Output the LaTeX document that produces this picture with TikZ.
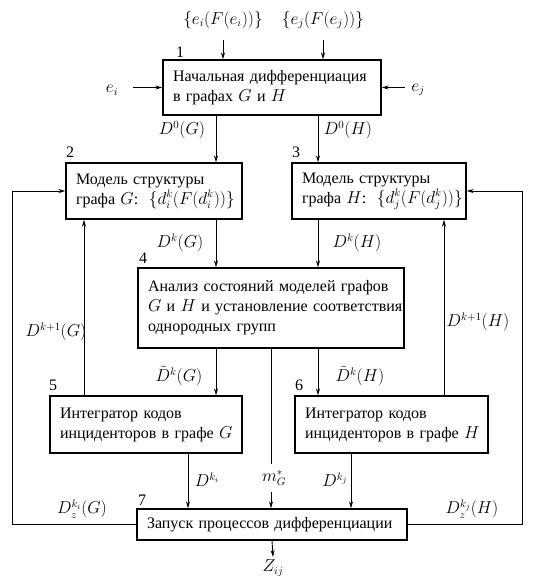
\documentclass[tikz,border=0pt]{standalone}
\usepackage{fontspec}
\setmainfont{Liberation Serif}
\usetikzlibrary{arrows.meta}
\tikzset{
  block/.style={draw, line width=1.3pt, align=left, inner xsep=10pt, inner ysep=0pt,
    font=\fontsize{16}{20}\selectfont},
  lbl/.style={font=\fontsize{16}{20}\selectfont, inner sep=1pt},
  num/.style={font=\fontsize{16}{20}\selectfont, inner sep=0pt},
  link/.style={draw, line width=0.9pt, -{Stealth[length=7pt,width=4pt]}},
  wire/.style={draw, line width=0.9pt},
}
\newcommand{\boxline}[1]{\mbox{#1}}
\begin{document}
\begin{tikzpicture}[x=1pt,y=-1pt]
\useasboundingbox (0,0) rectangle (553,576);
% blocks
\node[block, text width=198pt, minimum height=55pt] (1) at (272,87.5) {\boxline{Начальная дифференциация}\\\boxline{в графах $G$ и $H$}};
\node[block, text width=156pt, minimum height=56pt] (2) at (154,191) {\boxline{Модель структуры}\\\boxline{графа $G$:\, $\{d_i^k(F(d_i^k))\}$}};
\node[block, text width=154pt, minimum height=56pt] (3) at (379,191) {\boxline{Модель структуры}\\\boxline{графа $H$:\, $\{d_j^k(F(d_j^k))\}$}};
\node[block, text width=246pt, minimum height=80pt] (4) at (271,308) {\boxline{Анализ состояний моделей графов}\\\boxline{$G$ и $H$ и установление соответствия}\\\boxline{однородных групп}};
\node[block, text width=172pt, minimum height=57pt] (5) at (146,424.5) {\boxline{Интегратор кодов}\\\boxline{инциденторов в графе $G$}};
\node[block, text width=173pt, minimum height=57pt] (6) at (391.5,424.5) {\boxline{Интегратор кодов}\\\boxline{инциденторов в графе $H$}};
\node[block, text width=250pt, minimum height=31pt] (7) at (272,524.5) {\boxline{Запуск процессов дифференциации}};
% block numbers
\node[num] (n1) at (180,52) {1};
\node[num] (n2) at (70,152) {2};
\node[num] (n3) at (296,152) {3};
\node[num] (n4) at (143,258) {4};
\node[num] (n5) at (53,385) {5};
\node[num] (n6) at (299,385) {6};
\node[num] (n7) at (142,500) {7};
% columns
\coordinate (cG) at (216,0);
\coordinate (cH) at (318,0);
\coordinate (cm) at (271,0);
\coordinate (c5) at (188,0);
\coordinate (c6) at (351,0);
\coordinate (f5) at (84,0);
\coordinate (f6) at (444,0);
\coordinate (fl) at (12,0);
\coordinate (fr) at (522,0);
% inputs
\node[lbl] (eiF) at (223,20) {$\{e_i(F(e_i))\}$};
\node[lbl] (ejF) at (323,20) {$\{e_j(F(e_j))\}$};
\node[lbl] (ei) at (112,90) {$e_i$};
\node[lbl] (ej) at (418,90) {$e_j$};
\coordinate (inG) at (223,40);
\coordinate (inH) at (323,40);
\coordinate (inL) at (133,87.5);
\coordinate (inR) at (405,87.5);
\path[link] (inG) -- (1.north -| inG);
\path[link] (inH) -- (1.north -| inH);
\path[link] (inL) -- (1.west);
\path[link] (inR) -- (1.east);
% labels
\node[lbl] (d0G) at (182,130) {$D^0(G)$};
\node[lbl] (d0H) at (348,130) {$D^0(H)$};
\node[lbl] (dkG) at (180,243) {$D^k(G)$};
\node[lbl] (dkH) at (357,243) {$D^k(H)$};
\node[lbl] (tkG) at (179,376) {$\tilde{D}^k(G)$};
\node[lbl] (tkH) at (360,376) {$\tilde{D}^k(H)$};
\node[lbl] (d1G) at (56,332) {$D^{k+1}(G)$};
\node[lbl] (d1H) at (478,322) {$D^{k+1}(H)$};
\node[lbl] (dki) at (207,480) {$D^{k_i}$};
\node[lbl] (dkj) at (335,480) {$D^{k_j}$};
\node[lbl, inner ysep=6pt] (mG) at (274,478) {$m_G^*$};
\node[lbl] (dzG) at (82,509) {$D_z^{k_i}(G)$};
\node[lbl] (dzH) at (472,509) {$D_z^{k_j}(H)$};
\node[lbl] (Z) at (273,568) {$Z_{ij}$};
\coordinate (out) at (273,557);
% connectors
\path[link] (1.south -| cG) -- (2.north -| cG);
\path[link] (1.south -| cH) -- (3.north -| cH);
\path[link] (2.south -| cG) -- (4.north -| cG);
\path[link] (3.south -| cH) -- (4.north -| cH);
\path[link] (4.south -| cG) -- (5.north -| cG);
\path[link] (4.south -| cH) -- (6.north -| cH);
\path[link] (5.south -| c5) -- (7.north -| c5);
\path[link] (6.south -| c6) -- (7.north -| c6);
\path[link] (5.north -| f5) -- (2.south -| f5);
\path[link] (6.north -| f6) -- (3.south -| f6);
\path[wire] (4.south -| cm) -- (mG.north -| cm);
\path[link] (mG.south -| cm) -- (7.north -| cm);
\path[link] (7.south) -- (out);
% feedback
\path[link] (7.west) -- (7.west -| fl) -- (2.west -| fl) -- (2.west);
\path[link] (7.east) -- (7.east -| fr) -- (3.east -| fr) -- (3.east);
\end{tikzpicture}
\end{document}
